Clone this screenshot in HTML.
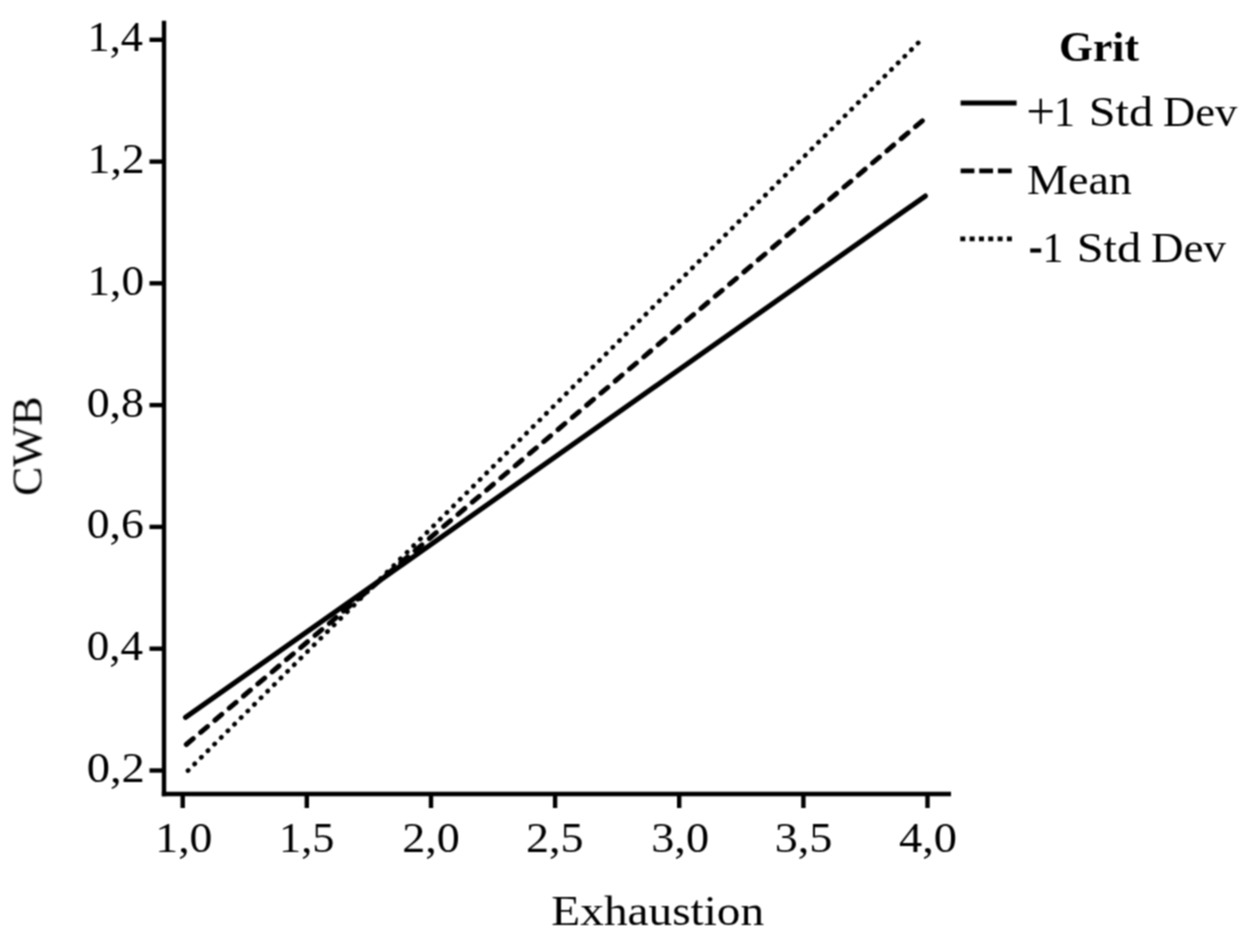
<!DOCTYPE html>
<html><head><meta charset="utf-8">
<style>
html,body{margin:0;padding:0;background:#fff;}
body{width:1244px;height:944px;overflow:hidden;position:relative;}
svg{position:absolute;left:0;top:0;}
text{font-family:"Liberation Serif",serif;fill:#000;font-size:42px;}
</style></head><body>
<svg width="1244" height="944" viewBox="0 0 1244 944">
<defs><filter id="soft" x="0" y="0" width="1244" height="944" filterUnits="userSpaceOnUse"><feConvolveMatrix order="3" kernelMatrix="1 2 1 2 4 2 1 2 1" divisor="16" edgeMode="duplicate"/></filter></defs>
<rect width="1244" height="944" fill="#fff"/>
<g filter="url(#soft)">
<g stroke="#000" stroke-width="4.4" fill="none">
<line x1="164" y1="20.8" x2="164" y2="796.2"/>
<line x1="161.8" y1="794" x2="951" y2="794"/>
<line x1="149.5" y1="39.8" x2="164" y2="39.8"/><line x1="149.5" y1="161.6" x2="164" y2="161.6"/><line x1="149.5" y1="283.3" x2="164" y2="283.3"/><line x1="149.5" y1="405.1" x2="164" y2="405.1"/><line x1="149.5" y1="526.9" x2="164" y2="526.9"/><line x1="149.5" y1="648.7" x2="164" y2="648.7"/><line x1="149.5" y1="770.5" x2="164" y2="770.5"/>
<line x1="182.7" y1="794" x2="182.7" y2="808"/><line x1="306.8" y1="794" x2="306.8" y2="808"/><line x1="431" y1="794" x2="431" y2="808"/><line x1="555.1" y1="794" x2="555.1" y2="808"/><line x1="679.2" y1="794" x2="679.2" y2="808"/><line x1="803.4" y1="794" x2="803.4" y2="808"/><line x1="927.5" y1="794" x2="927.5" y2="808"/>
</g>
<g stroke="#000" stroke-width="4.8" fill="none">
<line x1="185.50" y1="717.38" x2="925.30" y2="196.05" stroke-linecap="round" stroke-width="5.1"/>
<line x1="184.40" y1="746.10" x2="925.60" y2="118.01" stroke-dasharray="9.0 9.74" stroke-dashoffset="-2.5" stroke-linecap="round" stroke-width="5.0"/>
<line x1="187.99" y1="770.61" x2="919.76" y2="41.34" stroke-dasharray="0.3 9.069" stroke-linecap="round" stroke-width="4.7"/>
<line x1="960.6" y1="103" x2="1016.6" y2="103"/>
<line x1="960.6" y1="170.9" x2="1012.2" y2="170.9" stroke-dasharray="13.8 4.85"/>
<line x1="960.3" y1="238.9" x2="1012.4" y2="238.9" stroke-dasharray="5 4.32"/>
</g>
<text transform="translate(87.59 51.20) scale(1.0561 1)">1,4</text>
<text transform="translate(87.46 173.00) scale(1.0925 1)">1,2</text>
<text transform="translate(87.52 294.70) scale(1.0763 1)">1,0</text>
<text transform="translate(86.65 416.50) scale(1.0933 1)">0,8</text>
<text transform="translate(86.66 538.30) scale(1.0867 1)">0,6</text>
<text transform="translate(86.68 660.10) scale(1.0737 1)">0,4</text>
<text transform="translate(86.63 781.90) scale(1.1091 1)">0,2</text>
<text transform="translate(155.27 852.20) scale(1.0890 1)">1,0</text>
<text transform="translate(279.00 852.20) scale(1.0551 1)">1,5</text>
<text transform="translate(402.22 852.20) scale(1.0978 1)">2,0</text>
<text transform="translate(526.02 852.20) scale(1.0978 1)">2,5</text>
<text transform="translate(651.20 852.20) scale(1.1022 1)">3,0</text>
<text transform="translate(774.70 852.20) scale(1.1002 1)">3,5</text>
<text transform="translate(899.02 852.20) scale(1.1058 1)">4,0</text>
<text transform="translate(551.35 924.70) scale(1.1261 1)">Exhaustion</text>
<text transform="translate(1059.12 60.80) scale(1.0375 1)" font-weight="bold">Grit</text>
<path d="M1028.8 111.2H1052.6M1040.7 98.8V123.8" stroke="#000" stroke-width="2.4" fill="none"/>
<text transform="translate(1053.90 126.1)">1</text>
<text transform="translate(1088.69 126.10) scale(1.1480 1)">Std</text>
<text transform="translate(1163.03 126.10) scale(1.0596 1)">Dev</text>
<text transform="translate(1026.98 194.10) scale(1.0970 1)">Mean</text>
<rect x="1030.2" y="248.4" width="11" height="4.2" fill="#000"/>
<text transform="translate(1042.50 262.0)">1</text>
<text transform="translate(1076.68 262.00) scale(1.1499 1)">Std</text>
<text transform="translate(1151.12 262.00) scale(1.0698 1)">Dev</text>
<text transform="translate(41.5 495.77) rotate(-90) scale(1.0392 1)">CWB</text>
</g>
</svg>
</body></html>
